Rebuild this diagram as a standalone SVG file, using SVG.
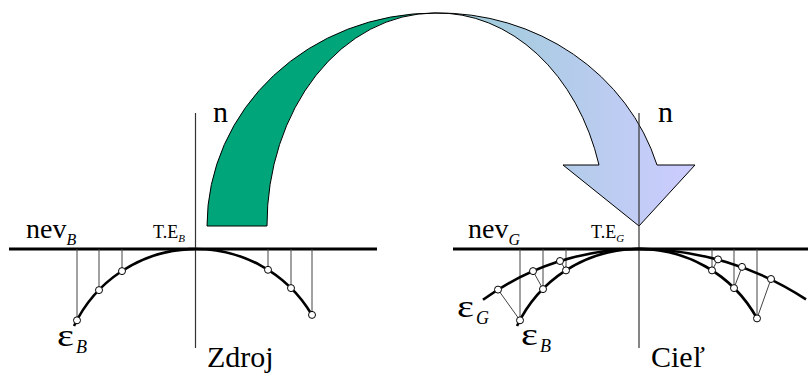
<svg xmlns="http://www.w3.org/2000/svg" width="808" height="374" viewBox="0 0 808 374">
<style>
text{font-family:'Liberation Serif','Times New Roman',Times,serif;fill:#000}
.sub{font-style:italic}
.thick{fill:none;stroke:#000;stroke-width:3}
.curve{fill:none;stroke:#000;stroke-width:2.6}
.thin{fill:none;stroke:#444;stroke-width:1}
.axis{fill:none;stroke:#333;stroke-width:1.2}
.pt{fill:#fff;stroke:#000;stroke-width:1}
</style>
<defs>
<linearGradient id="bg" gradientUnits="userSpaceOnUse" x1="435" y1="0" x2="695" y2="0">
<stop offset="0" stop-color="#98CCD4"/>
<stop offset="1" stop-color="#CDCCFF"/>
</linearGradient>
</defs>
<g id="arrow">
<path d="M207,226 A228,213 0 0 1 435,13 A168,212 0 0 0 267,226 Z" fill="#00A57A" stroke="#000" stroke-width="1"/>
<path d="M435,13 A228,213 0 0 1 657,165 L695,165 L639,226 L563,165 L599,165 A168,212 0 0 0 435,13 Z" fill="url(#bg)" stroke="#000" stroke-width="1"/>
</g>
<g id="source">
<line class="thick" x1="9" y1="249" x2="377" y2="249"/>
<line class="axis" x1="195.5" y1="113" x2="195.5" y2="348"/>
<g class="thin">
<line x1="77" y1="249" x2="77" y2="320"/>
<line x1="99" y1="249" x2="99" y2="290"/>
<line x1="122" y1="249" x2="122" y2="271"/>
<line x1="268" y1="249" x2="268" y2="270"/>
<line x1="291" y1="249" x2="291" y2="288"/>
<line x1="312" y1="249" x2="312" y2="315"/>
</g>
<path class="curve" d="M74,326 A135,135 0 0 1 312,315"/>
<g class="pt">
<circle cx="77" cy="320.3" r="3.5"/>
<circle cx="99" cy="290.1" r="3.5"/>
<circle cx="122" cy="271.1" r="3.5"/>
<circle cx="268" cy="269.8" r="3.5"/>
<circle cx="291" cy="288.1" r="3.5"/>
<circle cx="312" cy="314.9" r="3.5"/>
</g>
<text x="213" y="122" font-size="30">n</text>
<text x="26" y="238" font-size="28">nev<tspan class="sub" font-size="16" dy="7">B</tspan></text>
<text x="153" y="238" font-size="18">T.E<tspan class="sub" font-size="11" dy="4">B</tspan></text>
<text transform="translate(57,346) scale(1.3,1)" font-size="31">ε</text>
<text class="sub" x="76" y="353" font-size="18">B</text>
<text x="207" y="367" font-size="30">Zdroj</text>
</g>
<g id="target">
<line class="thick" x1="453" y1="249" x2="808" y2="249"/>
<line class="axis" x1="639" y1="113" x2="639" y2="348"/>
<g class="thin">
<line x1="520" y1="249" x2="520" y2="320"/>
<line x1="543" y1="249" x2="543" y2="289"/>
<line x1="566" y1="249" x2="566" y2="270"/>
<line x1="712" y1="249" x2="712" y2="270"/>
<line x1="734" y1="249" x2="734" y2="288"/>
<line x1="757" y1="249" x2="757" y2="318"/>
<line x1="498" y1="289.6" x2="520" y2="320.3"/>
<line x1="533" y1="271.1" x2="543" y2="289.1"/>
<line x1="560" y1="261" x2="566" y2="270.4"/>
<line x1="718" y1="259.4" x2="712" y2="270.4"/>
<line x1="742" y1="266.9" x2="734" y2="288.1"/>
<line x1="771" y1="279" x2="757" y2="318.4"/>
</g>
<path class="curve" d="M517,326 A135,135 0 0 1 757,318.4"/>
<path class="curve" d="M483,299.8 A265,265 0 0 1 639,249 A305,305 0 0 1 806,299.4"/>
<g class="pt">
<circle cx="520" cy="320.3" r="3.5"/>
<circle cx="543" cy="289.1" r="3.5"/>
<circle cx="566" cy="270.4" r="3.5"/>
<circle cx="712" cy="270.4" r="3.5"/>
<circle cx="734" cy="288.1" r="3.5"/>
<circle cx="757" cy="318.4" r="3.5"/>
<circle cx="498" cy="289.6" r="3.5"/>
<circle cx="533" cy="271.1" r="3.5"/>
<circle cx="560" cy="261" r="3.5"/>
<circle cx="718" cy="259.4" r="3.5"/>
<circle cx="742" cy="266.9" r="3.5"/>
<circle cx="771" cy="279" r="3.5"/>
</g>
<text x="658" y="122" font-size="30">n</text>
<text x="468" y="238" font-size="28">nev<tspan class="sub" font-size="16" dy="7">G</tspan></text>
<text x="591" y="238" font-size="18">T.E<tspan class="sub" font-size="11" dy="4">G</tspan></text>
<text transform="translate(457,317) scale(1.3,1)" font-size="31">ε</text>
<text class="sub" x="476" y="324" font-size="18">G</text>
<text transform="translate(521,345) scale(1.3,1)" font-size="31">ε</text>
<text class="sub" x="540" y="352" font-size="18">B</text>
<text x="651" y="367" font-size="30">Cieľ</text>
</g>
</svg>
